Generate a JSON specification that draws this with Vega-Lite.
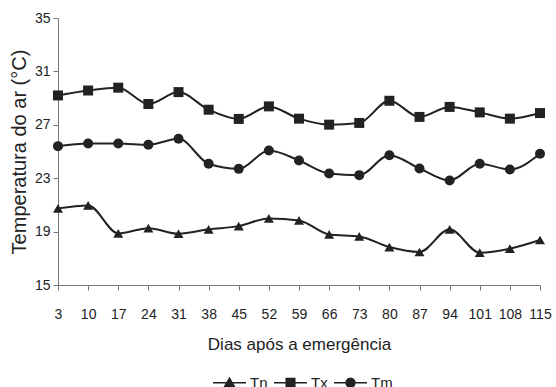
{
  "$schema": "https://vega.github.io/schema/vega-lite/v6.json",
  "width": 482,
  "height": 267,
  "autosize": {"type": "none"},
  "padding": {"left": 58, "top": 18, "right": 16, "bottom": 102},
  "background": "white",
  "config": {
    "view": {"stroke": null},
    "font": "Liberation Sans",
    "axis": {"grid": false, "domainColor": "#777", "tickColor": "#777", "labelColor": "#222", "titleColor": "#222", "labelFont": "Liberation Sans", "titleFont": "Liberation Sans"}
  },
  "data": {"values": [
    {"day": 3, "series": "Tx", "temp": 29.2},
    {"day": 10, "series": "Tx", "temp": 29.57},
    {"day": 17, "series": "Tx", "temp": 29.78},
    {"day": 24, "series": "Tx", "temp": 28.56},
    {"day": 31, "series": "Tx", "temp": 29.45},
    {"day": 38, "series": "Tx", "temp": 28.13},
    {"day": 45, "series": "Tx", "temp": 27.44},
    {"day": 52, "series": "Tx", "temp": 28.38},
    {"day": 59, "series": "Tx", "temp": 27.46},
    {"day": 66, "series": "Tx", "temp": 27.01},
    {"day": 73, "series": "Tx", "temp": 27.14},
    {"day": 80, "series": "Tx", "temp": 28.8},
    {"day": 87, "series": "Tx", "temp": 27.59},
    {"day": 94, "series": "Tx", "temp": 28.34},
    {"day": 101, "series": "Tx", "temp": 27.93},
    {"day": 108, "series": "Tx", "temp": 27.46},
    {"day": 115, "series": "Tx", "temp": 27.88},
    {"day": 3, "series": "Tm", "temp": 25.4},
    {"day": 10, "series": "Tm", "temp": 25.6},
    {"day": 17, "series": "Tm", "temp": 25.6},
    {"day": 24, "series": "Tm", "temp": 25.5},
    {"day": 31, "series": "Tm", "temp": 25.95},
    {"day": 38, "series": "Tm", "temp": 24.08},
    {"day": 45, "series": "Tm", "temp": 23.7},
    {"day": 52, "series": "Tm", "temp": 25.07},
    {"day": 59, "series": "Tm", "temp": 24.33},
    {"day": 66, "series": "Tm", "temp": 23.35},
    {"day": 73, "series": "Tm", "temp": 23.23},
    {"day": 80, "series": "Tm", "temp": 24.72},
    {"day": 87, "series": "Tm", "temp": 23.73},
    {"day": 94, "series": "Tm", "temp": 22.83},
    {"day": 101, "series": "Tm", "temp": 24.08},
    {"day": 108, "series": "Tm", "temp": 23.65},
    {"day": 115, "series": "Tm", "temp": 24.83},
    {"day": 3, "series": "Tn", "temp": 20.74},
    {"day": 10, "series": "Tn", "temp": 20.96},
    {"day": 17, "series": "Tn", "temp": 18.87},
    {"day": 24, "series": "Tn", "temp": 19.26},
    {"day": 31, "series": "Tn", "temp": 18.84},
    {"day": 38, "series": "Tn", "temp": 19.17},
    {"day": 45, "series": "Tn", "temp": 19.41},
    {"day": 52, "series": "Tn", "temp": 19.99},
    {"day": 59, "series": "Tn", "temp": 19.84},
    {"day": 66, "series": "Tn", "temp": 18.79},
    {"day": 73, "series": "Tn", "temp": 18.64},
    {"day": 80, "series": "Tn", "temp": 17.84},
    {"day": 87, "series": "Tn", "temp": 17.47},
    {"day": 94, "series": "Tn", "temp": 19.17},
    {"day": 101, "series": "Tn", "temp": 17.42},
    {"day": 108, "series": "Tn", "temp": 17.72},
    {"day": 115, "series": "Tn", "temp": 18.37}
  ]},
  "encoding": {
    "x": {"field": "day", "type": "quantitative",
      "scale": {"domain": [3, 115], "nice": false, "zero": false},
      "axis": {"values": [3,10,17,24,31,38,45,52,59,66,73,80,87,94,101,108,115], "title": "Dias após a emergência", "labelFontSize": 14, "labelPadding": 17, "tickSize": 5, "titleFontSize": 17, "titleFontWeight": "normal", "titlePadding": 15, "labelFlush": false, "labelOverlap": false}},
    "y": {"field": "temp", "type": "quantitative",
      "scale": {"domain": [15, 35], "nice": false, "zero": false},
      "axis": {"values": [15,19,23,27,31,35], "title": "Temperatura do ar (°C)", "titleFontSize": 20, "titleFontWeight": "normal", "titlePadding": 5, "labelFontSize": 14, "labelPadding": 3, "tickSize": 5}}
  },
  "layer": [
    {
      "mark": {"type": "line", "interpolate": "monotone", "color": "#222", "strokeWidth": 2},
      "encoding": {"detail": {"field": "series"}}
    },
    {
      "mark": {"type": "point", "filled": true, "color": "#222", "opacity": 1, "size": 100},
      "encoding": {
        "shape": {"field": "series", "type": "nominal",
          "scale": {"domain": ["Tn", "Tx", "Tm"], "range": ["triangle-up", "square", "circle"]},
          "legend": null}
      }
    },
    {
      "transform": [{"filter": "datum.day < 0"}],
      "mark": {"type": "point", "filled": false, "fill": "#222", "strokeWidth": 1.5, "opacity": 1},
      "encoding": {
        "stroke": {"field": "series", "type": "nominal",
          "scale": {"domain": ["Tn", "Tx", "Tm"], "range": ["#222", "#222", "#222"]},
          "legend": {
            "title": null, "orient": "none", "direction": "horizontal",
            "legendX": 154, "legendY": 347, "padding": 0,
            "symbolSize": 1089, "labelFontSize": 15, "labelOffset": 3, "columnPadding": 3,
            "labelColor": "#222", "labelFont": "Liberation Sans",
            "symbolStrokeWidth": 1.5, "symbolOpacity": 1
          }},
        "shape": {"field": "series", "type": "nominal",
          "scale": {"domain": ["Tn", "Tx", "Tm"], "range": [
            "M-1,0H1M-0.3,0.24L0,-0.28L0.3,0.24Z",
            "M-1,0H1M-0.26,-0.26H0.26V0.26H-0.26Z",
            "M-1,0H1M-0.27,0A0.27,0.27 0 1,0 0.27,0A0.27,0.27 0 1,0 -0.27,0Z"
          ]},
          "legend": {
            "title": null, "orient": "none", "direction": "horizontal",
            "legendX": 154, "legendY": 347, "padding": 0,
            "symbolSize": 1089, "labelFontSize": 15, "labelOffset": 3, "columnPadding": 3,
            "labelColor": "#222", "labelFont": "Liberation Sans",
            "symbolStrokeWidth": 1.5, "symbolOpacity": 1
          }}
      }
    }
  ],
  "resolve": {"scale": {"shape": "independent", "stroke": "independent"}}
}
